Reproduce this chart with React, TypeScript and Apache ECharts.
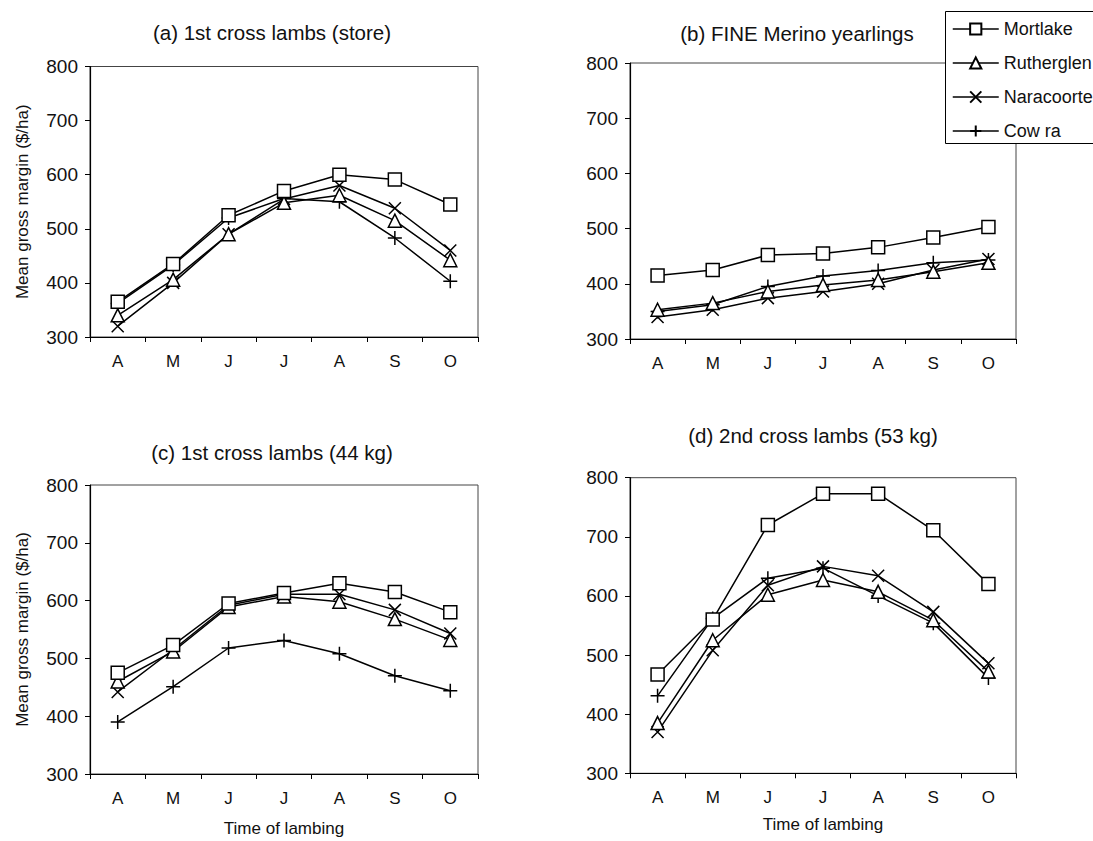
import React, { useEffect, useRef } from 'react';
import * as echarts from 'echarts';

const months = ['A', 'M', 'J', 'J', 'A', 'S', 'O'];
const sites = ['Mortlake', 'Rutherglen', 'Naracoorte', 'Cow ra'];
const panelTitles = [
  '(a) 1st cross lambs (store)',
  '(b) FINE Merino yearlings',
  '(c) 1st cross lambs (44 kg)',
  '(d) 2nd cross lambs (53 kg)',
];
const yAxisTitle = 'Mean gross margin ($/ha)';
const xAxisTitle = 'Time of lambing';

// (a) 1st cross lambs (store)
const aMortlake = [365, 435, 525, 570, 600, 591, 545];
const aRutherglen = [340, 406, 490, 548, 562, 515, 442];
const aNaracoorte = [320, 400, 490, 555, 580, 538, 460];
const aCowra = [362, 433, 520, 556, 550, 483, 403];

// (b) FINE Merino yearlings
const bMortlake = [415, 425, 452, 455, 466, 484, 503];
const bRutherglen = [353, 365, 386, 398, 407, 422, 438];
const bNaracoorte = [340, 353, 374, 386, 400, 425, 445];
const bCowra = [350, 362, 395, 414, 424, 438, 443];

// (c) 1st cross lambs (44 kg)
const cMortlake = [475, 523, 595, 613, 630, 615, 580];
const cRutherglen = [460, 512, 589, 607, 598, 568, 532];
const cNaracoorte = [442, 515, 592, 611, 611, 584, 543];
const cCowra = [390, 451, 518, 531, 508, 470, 444];

// (d) 2nd cross lambs (53 kg)
const dMortlake = [467, 560, 720, 773, 773, 711, 620];
const dRutherglen = [385, 525, 602, 627, 607, 559, 472];
const dNaracoorte = [370, 508, 618, 650, 634, 573, 486];
const dCowra = [431, 562, 630, 647, 600, 554, 461];

const panelData = [
  [aMortlake, aRutherglen, aNaracoorte, aCowra],
  [bMortlake, bRutherglen, bNaracoorte, bCowra],
  [cMortlake, cRutherglen, cNaracoorte, cCowra],
  [dMortlake, dRutherglen, dNaracoorte, dCowra],
];

const FONT = '"Liberation Sans", Arial, sans-serif';

const symbols = [
  { symbol: 'rect', size: 13 },
  { symbol: 'triangle', size: 13 },
  { symbol: 'path://M0,0L10,10M10,0L0,10', size: 12 },
  { symbol: 'path://M5,0L5,10M0,5L10,5', size: 14 },
];

const grids = [
  { left: 90, top: 66.5, width: 388, height: 270.5 },
  { left: 630, top: 63, width: 386, height: 276 },
  { left: 90, top: 485, width: 388, height: 289 },
  { left: 630, top: 477.7, width: 386, height: 295.6 },
];

const titlePos = [
  { x: 272, y: 32 },
  { x: 797, y: 33 },
  { x: 272, y: 452 },
  { x: 813, y: 435 },
];

const xNameGap = [0, 0, 46, 43];

export default function App() {
  const ref = useRef<HTMLDivElement>(null);
  useEffect(() => {
    if (!ref.current) return;
    const chart = echarts.init(ref.current, undefined, { renderer: 'svg' });
    const series: any[] = [];
    panelData.forEach((panel, p) => {
      panel.forEach((vals, s) => {
        series.push({
          name: sites[s],
          type: 'line',
          xAxisIndex: p,
          yAxisIndex: p,
          data: vals,
          symbol: symbols[s].symbol,
          symbolSize: symbols[s].size,
          showAllSymbol: true,
          lineStyle: { color: '#000', width: 1.5 },
          itemStyle: { color: '#fff', borderColor: '#000', borderWidth: 1.5 },
          emphasis: { disabled: true },
          silent: true,
          z: 3 + (3 - s),
        });
      });
    });
    const titleEls = panelTitles.map((t, i) => ({
      type: 'text',
      x: titlePos[i].x,
      y: titlePos[i].y,
      z: 1,
      style: {
        text: t,
        fill: '#111',
        fontSize: 20.5,
        fontFamily: FONT,
        textAlign: 'center',
        textVerticalAlign: 'middle',
      },
    }));
    const option: any = {
      animation: false,
      textStyle: { fontFamily: FONT },
      grid: grids.map((g) => ({
        ...g,
        show: true,
        borderColor: '#444',
        borderWidth: 1,
        backgroundColor: 'transparent',
      })),
      xAxis: grids.map((_, i) => ({
        type: 'category',
        gridIndex: i,
        data: months,
        boundaryGap: true,
        axisLine: { lineStyle: { color: '#000', width: 1.2 } },
        axisTick: { show: true, inside: false, length: 5, alignWithLabel: false, lineStyle: { color: '#000' } },
        axisLabel: { color: '#111', fontSize: 17, fontFamily: FONT, margin: 16 },
        splitLine: { show: false },
        name: i >= 2 ? xAxisTitle : '',
        nameLocation: 'middle',
        nameGap: xNameGap[i],
        nameTextStyle: { color: '#111', fontSize: 17, fontFamily: FONT },
      })),
      yAxis: grids.map((_, i) => ({
        type: 'value',
        gridIndex: i,
        min: 300,
        max: 800,
        interval: 100,
        axisLine: { show: true, lineStyle: { color: '#000', width: 1.2 } },
        axisTick: { show: true, inside: false, length: 5, lineStyle: { color: '#000' } },
        axisLabel: { color: '#111', fontSize: 19, fontFamily: FONT, margin: 12 },
        splitLine: { show: false },
        name: i % 2 === 0 ? yAxisTitle : '',
        nameLocation: 'middle',
        nameGap: 59,
        nameRotate: 90,
        nameTextStyle: { color: '#111', fontSize: 17, fontFamily: FONT },
      })),
      legend: {
        show: true,
        orient: 'vertical',
        left: 945,
        top: 11,
        backgroundColor: 'transparent',
        borderWidth: 0,
        padding: [9, 10, 9, 7],
        itemWidth: 46,
        itemHeight: 14,
        itemGap: 16,
        data: sites,
        selectedMode: false,
        textStyle: { color: '#111', fontSize: 18, fontFamily: FONT },
        lineStyle: { color: '#000', width: 1.5 },
        z: 20,
      },
      graphic: [
        ...titleEls,
        {
          type: 'rect',
          z: 15,
          shape: { x: 945.5, y: 11.5, width: 160, height: 132 },
          style: { fill: '#fff', stroke: 'none' },
        },
        {
          type: 'polyline',
          z: 16,
          shape: { points: [[1100, 11.5], [945.5, 11.5], [945.5, 143.5], [1100, 143.5]] },
          style: { fill: 'none', stroke: '#000', lineWidth: 1 },
        },
      ],
      series,
    };
    chart.setOption(option);
    return () => chart.dispose();
  }, []);
  return (
    <div
      ref={ref}
      style={{ position: 'absolute', left: 0, top: 0, width: 1093, height: 841, background: '#fff' }}
    />
  );
}
